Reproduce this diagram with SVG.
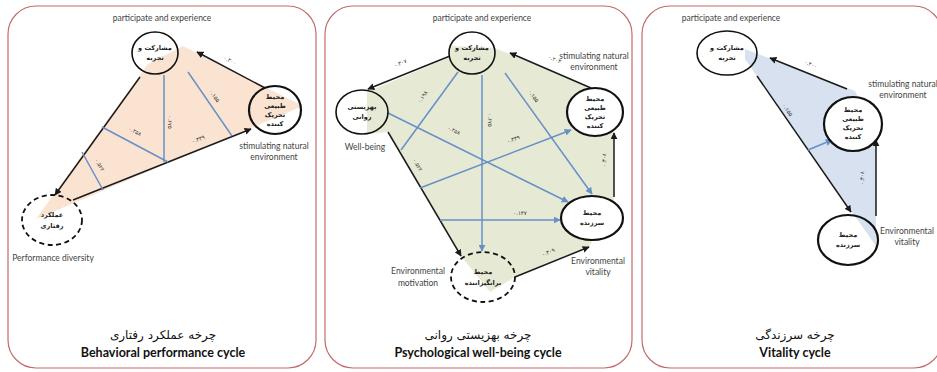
<svg xmlns="http://www.w3.org/2000/svg" width="937" height="372" viewBox="0 0 937 372">
  <style>
    .panel { fill: #ffffff; stroke: #c46a6a; stroke-width: 1.2; }
    .node { stroke: #111111; stroke-width: 1.6; }
    .thick { stroke-width: 2.2; }
    .dash { stroke-dasharray: 5 3.5; stroke-width: 1.8; }
    .open { fill: none; }
    .solid { fill: #ffffff; }
    .fa { font-family: "DejaVu Sans", sans-serif; font-weight: bold; font-size: 6.5px; fill: #222222; text-anchor: middle; }
    .en { font-family: Lato, "Liberation Sans", sans-serif; font-size: 8.5px; fill: #444444; text-anchor: middle; }
    .ttl-fa { font-family: "DejaVu Sans", sans-serif; font-size: 12px; fill: #111111; text-anchor: middle; }
    .ttl-en { font-family: Lato, "Liberation Sans", sans-serif; font-weight: bold; font-size: 12.5px; fill: #111111; text-anchor: middle; }
    .blk { stroke: #1a1a1a; stroke-width: 1.5; fill: none; }
    .blu { stroke: #6690c6; stroke-width: 1.5; fill: none; }
    .arr { marker-end: url(#ah-black); }
    .arrb { marker-end: url(#ah-blue); }
    .val { font-family: "DejaVu Sans", sans-serif; font-size: 5.5px; fill: #333333; text-anchor: middle; }
  </style>
  <defs>
    <marker id="ah-black" viewBox="0 0 10 10" refX="9" refY="5" markerWidth="7" markerHeight="7" markerUnits="userSpaceOnUse" orient="auto">
      <path d="M0,0 L10,5 L0,10 z" fill="#1a1a1a"/>
    </marker>
    <marker id="ah-blue" viewBox="0 0 10 10" refX="9" refY="5" markerWidth="7" markerHeight="7" markerUnits="userSpaceOnUse" orient="auto">
      <path d="M0,0 L10,5 L0,10 z" fill="#6690c6"/>
    </marker>
  </defs>

  <!-- panel frames -->
  <g id="frames">
    <rect class="panel" x="8" y="6" width="308" height="362" rx="28"/>
    <rect class="panel" x="325" y="6" width="307" height="362" rx="28"/>
    <rect class="panel" x="642" y="6" width="300" height="362" rx="28"/>
  </g>

  <!-- shaded cycle areas -->
  <g id="areas">
    <polygon points="36,219 148,64 183,46 303,106" fill="#fbe3d2"/>
    <polygon points="367,92 448,58 452,46 494,48 510,54 592,88 614,130 614,200 589,247 515,277 490,292 461,256 388,132 367,134" fill="#e6e9d4"/>
    <polygon points="745,49 855,91 876,135 876,246 852,212 745,59" fill="#d7e1f0"/>
  </g>

  <!-- connectors -->
  <g id="connectors">
    <!-- behavioral performance cycle -->
    <line class="blk arr" x1="265" y1="88" x2="197" y2="52"/>
    <line class="blk arr" x1="140" y1="77" x2="55" y2="195"/>
    <line class="blk arr" x1="73" y1="200" x2="251" y2="129"/>
    <line class="blu" x1="164" y1="75" x2="164" y2="162"/>
    <line class="blu" x1="188" y1="72" x2="232" y2="136"/>
    <line class="blu" x1="102" y1="127" x2="168" y2="162"/>
    <line class="blu" x1="82" y1="152" x2="103" y2="190"/>
    <text class="val" transform="translate(229,62) rotate(28)">۰.۲۰۰</text>
    <text class="val" transform="translate(213,97) rotate(55)">۰.۱۵۵</text>
    <text class="val" transform="translate(168,122) rotate(90)">۰.۶۷۵</text>
    <text class="val" transform="translate(134,133) rotate(28)">۰.۲۵۸</text>
    <text class="val" transform="translate(199,141) rotate(-22)">۰.۳۳۹</text>
    <text class="val" transform="translate(98,166) rotate(60)">۰.۵۲۲</text>

    <!-- psychological well-being cycle -->
    <line class="blk arr" x1="450" y1="56" x2="368" y2="89"/>
    <line class="blk arr" x1="591" y1="88" x2="510" y2="53"/>
    <line class="blk arr" x1="388" y1="132" x2="461" y2="256"/>
    <line class="blk arr" x1="515" y1="277" x2="589" y2="247"/>
    <line class="blk arr" x1="614" y1="197" x2="614" y2="133"/>
    <line class="blu arrb" x1="482" y1="75" x2="482" y2="251"/>
    <line class="blu arrb" x1="505" y1="73" x2="592" y2="194"/>
    <line class="blu" x1="458" y1="72" x2="401" y2="150"/>
    <line class="blu arrb" x1="388" y1="113" x2="568" y2="202"/>
    <line class="blu arrb" x1="420" y1="188" x2="571" y2="130"/>
    <line class="blu arrb" x1="440" y1="220" x2="560" y2="220"/>
    <text class="val" transform="translate(401,65) rotate(-22)">۰.۳۰۷</text>
    <text class="val" transform="translate(554,61) rotate(23)">۰.۲۰۳</text>
    <text class="val" transform="translate(416,166) rotate(60)">۰.۵۲۲</text>
    <text class="val" transform="translate(549,254) rotate(-22)">۰.۳۰۹</text>
    <text class="val" transform="translate(606,160) rotate(-90)">۰.۳۰۸</text>
    <text class="val" transform="translate(488,120) rotate(90)">۰.۶۷۵</text>
    <text class="val" transform="translate(532,97) rotate(55)">۰.۱۵۵</text>
    <text class="val" transform="translate(424,98) rotate(-54)">۰.۱۹۸</text>
    <text class="val" transform="translate(453,132) rotate(26)">۰.۲۵۸</text>
    <text class="val" transform="translate(514,141) rotate(-21)">۰.۳۳۹</text>
    <text class="val" x="520" y="215">۰.۱۳۷</text>

    <!-- vitality cycle -->
    <line class="blk arr" x1="847" y1="89" x2="770" y2="58"/>
    <line class="blk arr" x1="757" y1="76" x2="851" y2="212"/>
    <line class="blk arr" x1="876" y1="216" x2="876" y2="140"/>
    <line class="blu arrb" x1="808" y1="150" x2="832" y2="140"/>
    <text class="val" transform="translate(810,66) rotate(22)">۰.۴۰۰</text>
    <text class="val" transform="translate(786,111) rotate(55)">۰.۱۵۵</text>
    <text class="val" transform="translate(864,178) rotate(-90)">۰.۳۰۸</text>
  </g>

  <!-- behavioral performance cycle nodes -->
  <g id="b-participate">
    <ellipse class="node open" cx="155" cy="53" rx="23" ry="21"/>
    <text class="fa" x="155" y="50">مشارکت و</text>
    <text class="fa" x="155" y="60">تجربه</text>
  </g>
  <g id="b-stimulating">
    <ellipse class="node open thick" cx="275" cy="110" rx="26" ry="24"/>
    <text class="fa" x="275" y="99">محیط</text>
    <text class="fa" x="275" y="108">طبیعی</text>
    <text class="fa" x="275" y="117">تحریک</text>
    <text class="fa" x="275" y="126">کننده</text>
  </g>
  <g id="b-performance">
    <ellipse class="node open dash" cx="52" cy="220" rx="30" ry="25"/>
    <text class="fa" x="52" y="217">عملکرد</text>
    <text class="fa" x="52" y="228">رفتاری</text>
  </g>
  <g id="b-labels">
    <text class="en" x="162" y="21">participate and experience</text>
    <text class="en" x="274" y="149">stimulating natural</text>
    <text class="en" x="274" y="160">environment</text>
    <text class="en" x="53" y="261">Performance diversity</text>
    <text class="ttl-fa" x="163" y="339">چرخه عملکرد رفتاری</text>
    <text class="ttl-en" x="163" y="357">Behavioral performance cycle</text>
  </g>

  <!-- psychological well-being cycle nodes -->
  <g id="w-participate">
    <ellipse class="node open" cx="472" cy="53" rx="23" ry="21"/>
    <text class="fa" x="472" y="50">مشارکت و</text>
    <text class="fa" x="472" y="60">تجربه</text>
  </g>
  <g id="w-wellbeing">
    <ellipse class="node open" cx="362" cy="112" rx="26" ry="22"/>
    <text class="fa" x="362" y="109">بهزیستی</text>
    <text class="fa" x="362" y="119">روانی</text>
  </g>
  <g id="w-stimulating">
    <ellipse class="node solid thick" cx="595" cy="112" rx="28" ry="24"/>
    <text class="fa" x="595" y="101">محیط</text>
    <text class="fa" x="595" y="110">طبیعی</text>
    <text class="fa" x="595" y="119">تحریک</text>
    <text class="fa" x="595" y="128">کننده</text>
  </g>
  <g id="w-vitality">
    <ellipse class="node solid thick" cx="592" cy="218" rx="31" ry="22"/>
    <text class="fa" x="592" y="215">محیط</text>
    <text class="fa" x="592" y="225">سرزنده</text>
  </g>
  <g id="w-motivation">
    <ellipse class="node open dash" cx="483" cy="277" rx="32" ry="25"/>
    <text class="fa" x="483" y="274">محیط</text>
    <text class="fa" x="483" y="285">برانگیزاننده</text>
  </g>
  <g id="w-labels">
    <text class="en" x="482" y="21">participate and experience</text>
    <text class="en" x="365" y="150">Well-being</text>
    <text class="en" x="594" y="59">stimulating natural</text>
    <text class="en" x="594" y="70">environment</text>
    <text class="en" x="598" y="264">Environmental</text>
    <text class="en" x="598" y="275">vitality</text>
    <text class="en" x="418" y="274">Environmental</text>
    <text class="en" x="418" y="286">motivation</text>
    <text class="ttl-fa" x="478" y="339">چرخه بهزیستی روانی</text>
    <text class="ttl-en" x="478" y="357">Psychological well-being cycle</text>
  </g>

  <!-- vitality cycle nodes -->
  <g id="v-participate">
    <ellipse class="node open" cx="727" cy="53" rx="30" ry="22"/>
    <text class="fa" x="727" y="50">مشارکت و</text>
    <text class="fa" x="727" y="60">تجربه</text>
  </g>
  <g id="v-stimulating">
    <ellipse class="node solid thick" cx="853" cy="124" rx="29" ry="27"/>
    <text class="fa" x="853" y="112">محیط</text>
    <text class="fa" x="853" y="121">طبیعی</text>
    <text class="fa" x="853" y="130">تحریک</text>
    <text class="fa" x="853" y="139">کننده</text>
  </g>
  <g id="v-vitality">
    <ellipse class="node open thick" cx="848" cy="240" rx="30" ry="25"/>
    <text class="fa" x="848" y="237">محیط</text>
    <text class="fa" x="848" y="247">سرزنده</text>
  </g>
  <g id="v-labels">
    <text class="en" x="731" y="21">participate and experience</text>
    <text class="en" x="903" y="87">stimulating natural</text>
    <text class="en" x="903" y="98">environment</text>
    <text class="en" x="907" y="234">Environmental</text>
    <text class="en" x="907" y="245">vitality</text>
    <text class="ttl-fa" x="795" y="339">چرخه سرزندگی</text>
    <text class="ttl-en" x="795" y="357">Vitality cycle</text>
  </g>
</svg>
